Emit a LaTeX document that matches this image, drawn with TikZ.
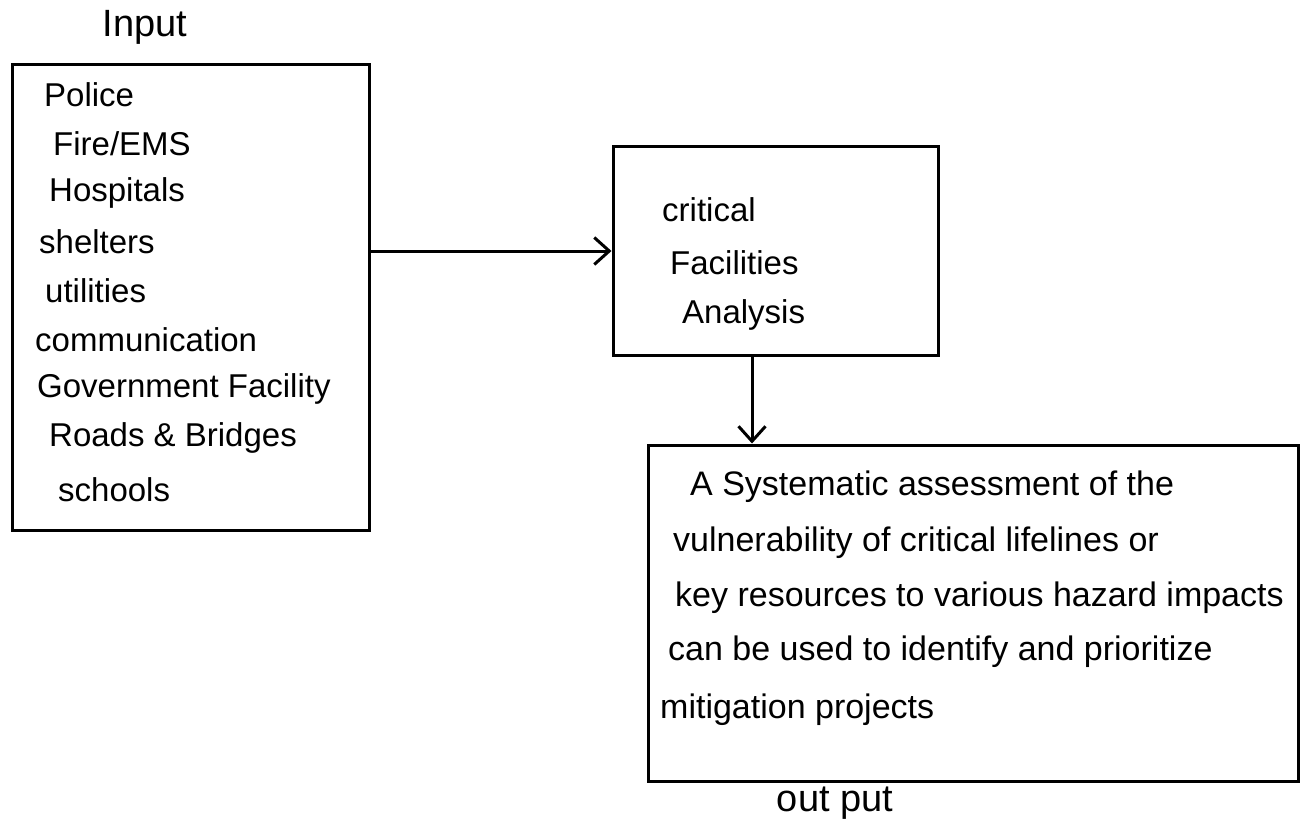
\documentclass[tikz,border=0pt]{standalone}
\usepackage{fontspec}
\setmainfont{Liberation Sans}
\usetikzlibrary{arrows.meta}

\begin{document}
\begin{tikzpicture}[x=1pt, y=-1pt,
  box/.style={draw=black, line width=3pt, inner sep=0pt},
  conn/.style={line width=3pt, -{Straight Barb[length=15pt,width=27pt,line width=3pt]}},
  txt/.style={anchor=west, inner sep=0pt, font=\fontsize{33}{40}\selectfont},
  bigtxt/.style={anchor=west, inner sep=0pt, font=\fontsize{34}{40}\selectfont},
  lbl/.style={anchor=center, inner sep=0pt, font=\fontsize{38}{44}\selectfont}
]
\path[use as bounding box] (0,0) rectangle (1309,821);

% input box and its list
\node[box, minimum width=357pt, minimum height=465pt] (inbox) at (190.5,297.5) {};
\node[lbl] (inlbl) at (145,27) {Input};
\node[txt] (i1) at (44,95)  {Police};
\node[txt] (i2) at (53,144) {Fire/EMS};
\node[txt] (i3) at (49,193) {Hospitals};
\node[txt] (i4) at (39,242) {shelters};
\node[txt] (i5) at (45,291) {utilities};
\node[txt] (i6) at (35,340) {communication};
\node[txt] (i7) at (37,389) {Government Facility};
\node[txt] (i8) at (49,438) {Roads \& Bridges};
\node[txt] (i9) at (58,490) {schools};

% analysis box
\node[box, minimum width=325pt, minimum height=208pt] (mid) at (775.5,251) {};
\node[txt] (m1) at (662,210) {critical};
\node[txt] (m2) at (670,263) {Facilities};
\node[txt] (m3) at (682,315) {Analysis};

% output box
\node[box, minimum width=650pt, minimum height=336pt] (outbox) at (973,613) {};
\node[bigtxt] (o1) at (690,487) {A Systematic assessment of the};
\node[bigtxt] (o2) at (673,543) {vulnerability of critical lifelines or};
\node[bigtxt] (o3) at (675,598) {key resources to various hazard impacts};
\node[bigtxt] (o4) at (668,652) {can be used to identify and prioritize};
\node[bigtxt] (o5) at (660,710) {mitigation projects};
\node[lbl] (outlbl) at (835,803) {out put};

% connectors
\draw[conn] (inbox.east |- mid.west) -- (mid.west);
\coordinate (drop) at (752,0);
\draw[conn] (drop |- mid.south) -- (drop |- outbox.north);
\end{tikzpicture}
\end{document}
